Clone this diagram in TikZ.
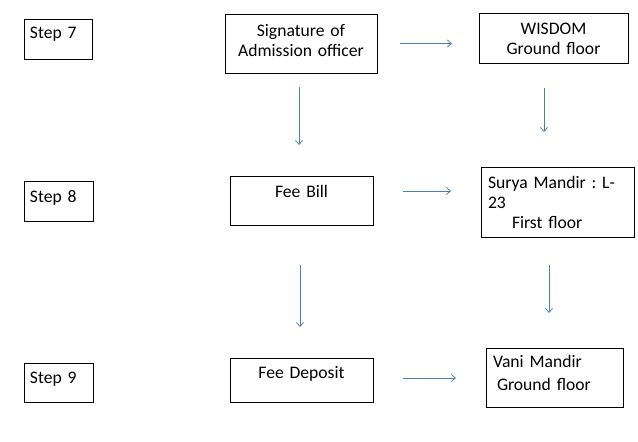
\documentclass[tikz,border=0pt]{standalone}
\usepackage{fontspec}
\setmainfont{Carlito}
\usetikzlibrary{arrows.meta}
\frenchspacing

\definecolor{flowblue}{HTML}{4A7EBB}

\begin{document}
\begin{tikzpicture}[x=1pt, y=-1pt, font=\fontsize{17.6}{20}\selectfont,
	block/.style = { rectangle, draw=black, line width=0.9pt, anchor=north west,
	inner ysep=0pt, outer sep=0pt, align=center, inner xsep=0pt},
	stepbox/.style = { block, align=left, inner xsep=6pt, text width=57pt},
	flow/.style = { draw=flowblue, line width=0.75pt,
	-{Straight Barb[length=4pt, width=7pt]}} ]

  \useasboundingbox (0,0) rectangle (638,442);

  % left column
  \node [name=step7, stepbox, text width=56pt,
	text height=19.5pt, text depth=20.5pt] at (24,19) {Step 7};
  \node [name=step8, stepbox,
	text height=21pt, text depth=19pt] at (24,181) {Step 8};
  \node [name=step9, stepbox,
	text height=20pt, text depth=19pt] at (24,363) {Step 9};

  % middle column
  \node [name=sign, block, text width=152pt,
	text height=22pt, text depth=37pt] at (225,14)
	{Signature of\\Admission officer};
  \node [name=feebill, block, text width=143pt,
	text height=21pt, text depth=28pt] at (230,176) {Fee Bill};
  \node [name=feedep, block, text width=143pt,
	text height=20pt, text depth=24pt] at (230,358) {Fee Deposit};

  % right column
  \node [name=wisdom, block, text width=149pt,
	text height=21pt, text depth=29pt] at (479,13)
	{WISDOM\\Ground floor};
  \node [name=surya, block, align=left, inner xsep=7pt, text width=139pt,
	text height=21pt, text depth=49pt] at (481,167)
	{Surya Mandir : L-\\23\\\hspace*{24pt}First floor};
  \node [name=vani, block, align=left, inner xsep=7pt, text width=123pt,
	text height=19pt, text depth=40pt] at (486,348)
	{Vani Mandir\\[3pt]\hspace*{4pt}Ground floor};

  % across
  \draw [flow, shorten <=23pt, shorten >=27pt]
	(sign.east) -- (sign.east -| wisdom.west);
  \draw [flow, shorten <=30pt, shorten >=30pt]
	([yshift=9.5pt]feebill.east) -- ([yshift=9.5pt]feebill.east -| surya.west);
  \draw [flow, shorten <=30pt, shorten >=30pt]
	([yshift=2pt]feedep.east) -- ([yshift=2pt]feedep.east -| vani.west);

  % down
  \draw [flow, shorten <=14pt, shorten >=31pt]
	([xshift=-2pt]sign.south) -- ([xshift=-2pt]sign.south |- feebill.north);
  \draw [flow, shorten <=40pt, shorten >=31pt]
	([xshift=-1.5pt]feebill.south) -- ([xshift=-1.5pt]feebill.south |- feedep.north);
  \draw [flow, shorten <=25pt, shorten >=35pt]
	([xshift=-9.5pt]wisdom.south) -- ([xshift=-9.5pt]wisdom.south |- surya.north);
  \draw [flow, shorten <=28pt, shorten >=35pt]
	([xshift=-8.5pt]surya.south) -- ([xshift=-8.5pt]surya.south |- vani.north);
\end{tikzpicture}
\end{document}
